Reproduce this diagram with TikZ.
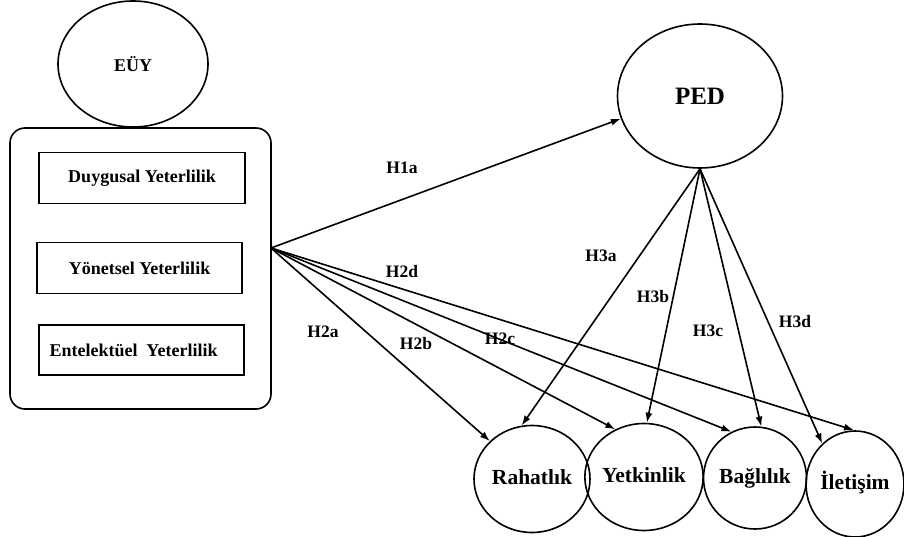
\documentclass[tikz,border=0pt]{standalone}
\usepackage{fontspec}
\setmainfont{Liberation Serif}
\usetikzlibrary{shapes.geometric,arrows.meta}
\begin{document}
\begin{tikzpicture}[x=1pt,y=-1pt,line width=1.6pt,
  oval/.style={draw,ellipse,inner sep=0pt},
  sbox/.style={draw,rectangle,inner sep=0pt,minimum width=205pt,minimum height=51pt,font=\fontsize{18}{21}\selectfont\bfseries},
  hlab/.style={font=\fontsize{17.5}{20}\selectfont\bfseries,inner sep=0pt},
  small/.style={font=\fontsize{18}{21}\selectfont\bfseries},
  big/.style={font=\fontsize{25}{29}\selectfont\bfseries},
  dim/.style={font=\fontsize{21.5}{25}\selectfont\bfseries,text height=15pt,text depth=4pt},
  arr/.style={-{Latex[length=10pt,width=7pt]},line width=1.6pt}
]
\useasboundingbox (0,0) rectangle (904,537);
% group box
\node[draw,rounded corners=15pt,minimum width=261pt,minimum height=281pt,inner sep=0pt] (grp) at (140.5,268.5) {};
\node[oval,small,minimum width=150pt,minimum height=126pt] (euy) at (133,64) {\raisebox{-5pt}{EÜY}};
\node[sbox,minimum width=206pt] (b1) at (142,178) {Duygusal Yeterlilik};
\node[sbox] (b2) at (139.5,268) {Yönetsel Yeterlilik};
\node[sbox,minimum height=50pt] (b3) at (141.5,350) {\hspace*{-16pt}Entelektüel\ \ Yeterlilik};
% PED
\node[oval,big,minimum width=165pt,minimum height=144pt] (ped) at (700,96) {PED};
% dimensions
\node[oval,dim,minimum width=116pt,minimum height=107pt] (rah) at (532,479) {Rahatlık};
\node[oval,dim,minimum width=111pt,minimum height=107pt] (yet) at (644,477) {Yetkinlik};
\node[oval,dim,minimum width=103pt,minimum height=102pt] (bag) at (755,478) {Bağlılık};
\node[oval,dim,minimum width=96pt,minimum height=106pt] (ile) at (855,484) {İletişim};
% source point
\coordinate (S) at (271,248);
% arrows
\draw[arr] (S) -- (ped.196);
\draw[arr] (S) -- (rah.138);
\draw[arr] (S) -- (yet.121);
\draw[arr] (S) -- (bag.117);
\draw[arr] (S) -- (ile.91);
\draw[arr] (ped.south) -- (rah.101);
\draw[arr] (ped.south) -- (yet.87);
\draw[arr] (ped.south) -- (bag.83);
\draw[arr] (ped.south) -- (ile.129);
% labels
\node[hlab] (l1a) at (402,168) {H1a};
\node[hlab] (l2d) at (402,272) {H2d};
\node[hlab] (l2a) at (323,332) {H2a};
\node[hlab] (l2b) at (416,344) {H2b};
\node[hlab] (l2c) at (500,339) {H2c};
\node[hlab] (l3a) at (601,256) {H3a};
\node[hlab] (l3b) at (653,297) {H3b};
\node[hlab] (l3c) at (708,331) {H3c};
\node[hlab] (l3d) at (795,322) {H3d};
\end{tikzpicture}
\end{document}
